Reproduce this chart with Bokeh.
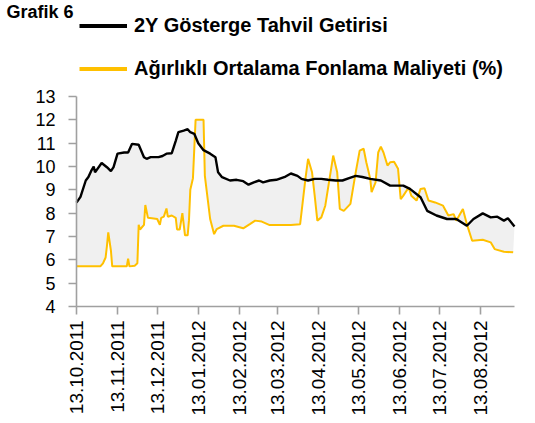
import math
import numpy as np
import pandas as pd
from bokeh.plotting import figure
from bokeh.models import (FixedTicker, DatetimeTickFormatter, Label, Legend,
                          LegendItem, Range1d, SingleIntervalTicker)
from bokeh.embed import file_html
from bokeh.resources import INLINE

# ---------------- data ----------------
tick_labels = ["13.10.2011", "13.11.2011", "13.12.2011", "13.01.2012",
               "13.02.2012", "13.03.2012", "13.04.2012", "13.05.2012",
               "13.06.2012", "13.07.2012", "13.08.2012"]

gosterge_dates = [
    "2011-10-13", "2011-10-16", "2011-10-20", "2011-10-22", "2011-10-24",
    "2011-10-26", "2011-10-27", "2011-11-01", "2011-11-05", "2011-11-08",
    "2011-11-10", "2011-11-13", "2011-11-18", "2011-11-21", "2011-11-24",
    "2011-11-29", "2011-12-03", "2011-12-05", "2011-12-08", "2011-12-14",
    "2011-12-17", "2011-12-20", "2011-12-24", "2011-12-27", "2011-12-29",
    "2012-01-02", "2012-01-05", "2012-01-07", "2012-01-10", "2012-01-13",
    "2012-01-17", "2012-01-22", "2012-01-26", "2012-01-28", "2012-01-31",
    "2012-02-06", "2012-02-11", "2012-02-16", "2012-02-20", "2012-02-24",
    "2012-02-28", "2012-03-02", "2012-03-07", "2012-03-12", "2012-03-19",
    "2012-03-23", "2012-03-28", "2012-03-31", "2012-04-05", "2012-04-10",
    "2012-04-15", "2012-04-20", "2012-04-26", "2012-05-01", "2012-05-06",
    "2012-05-11", "2012-05-16", "2012-05-22", "2012-05-30", "2012-06-06",
    "2012-06-16", "2012-06-21", "2012-06-29", "2012-07-04", "2012-07-11",
    "2012-07-19", "2012-07-26", "2012-08-03", "2012-08-08", "2012-08-15",
    "2012-08-21", "2012-08-26", "2012-08-31", "2012-09-03", "2012-09-08"]
gosterge_values = [
    8.45, 8.70, 9.40, 9.55, 9.80, 10.00, 9.75, 10.15, 9.97, 9.80,
    9.97, 10.55, 10.60, 10.60, 10.97, 10.93, 10.40, 10.33, 10.40, 10.40,
    10.45, 10.55, 10.57, 11.10, 11.47, 11.54, 11.60, 11.47, 11.40, 11.00,
    10.70, 10.55, 10.40, 9.75, 9.54, 9.40, 9.43, 9.37, 9.22, 9.32,
    9.40, 9.32, 9.40, 9.43, 9.57, 9.70, 9.60, 9.47, 9.40, 9.47,
    9.47, 9.43, 9.40, 9.40, 9.50, 9.60, 9.55, 9.47, 9.40, 9.18,
    9.18, 9.04, 8.68, 8.10, 7.90, 7.75, 7.75, 7.46, 7.75, 7.99,
    7.82, 7.85, 7.68, 7.78, 7.43]

fonlama_dates = [
    "2011-10-13", "2011-10-31", "2011-11-02", "2011-11-04", "2011-11-05",
    "2011-11-06", "2011-11-08", "2011-11-09", "2011-11-20", "2011-11-21",
    "2011-11-22", "2011-11-26", "2011-11-28", "2011-11-29", "2011-11-30",
    "2011-12-03", "2011-12-04", "2011-12-06", "2011-12-09", "2011-12-13",
    "2011-12-15", "2011-12-16", "2011-12-18", "2011-12-20", "2011-12-21",
    "2011-12-24", "2011-12-27", "2011-12-28", "2011-12-30", "2012-01-01",
    "2012-01-03", "2012-01-05", "2012-01-06", "2012-01-07", "2012-01-09",
    "2012-01-11", "2012-01-17", "2012-01-18", "2012-01-22", "2012-01-25",
    "2012-01-27", "2012-02-01", "2012-02-09", "2012-02-16", "2012-02-21",
    "2012-02-25", "2012-03-01", "2012-03-07", "2012-03-15", "2012-03-23",
    "2012-03-30", "2012-04-03", "2012-04-05", "2012-04-08", "2012-04-10",
    "2012-04-12", "2012-04-15", "2012-04-18", "2012-04-22", "2012-04-24",
    "2012-04-27", "2012-04-29", "2012-05-02", "2012-05-07", "2012-05-11",
    "2012-05-14", "2012-05-17", "2012-05-19", "2012-05-22", "2012-05-23",
    "2012-05-26", "2012-05-28", "2012-05-30", "2012-06-01", "2012-06-04",
    "2012-06-06", "2012-06-09", "2012-06-12", "2012-06-14", "2012-06-16",
    "2012-06-20", "2012-06-22", "2012-06-26", "2012-06-29", "2012-07-02",
    "2012-07-05", "2012-07-10", "2012-07-16", "2012-07-20", "2012-07-24",
    "2012-07-26", "2012-07-31", "2012-08-03", "2012-08-07", "2012-08-15",
    "2012-08-21", "2012-08-24", "2012-08-31", "2012-09-07"]
fonlama_values = [
    5.72, 5.72, 5.85, 6.10, 6.60, 7.18, 6.40, 5.72, 5.72, 6.05,
    5.72, 5.75, 5.85, 7.50, 7.30, 7.50, 8.35, 7.80, 7.78, 7.75,
    7.50, 7.80, 7.85, 8.20, 7.85, 7.90, 7.80, 7.30, 7.30, 8.00,
    7.05, 7.05, 7.70, 9.00, 9.50, 12.00, 12.00, 9.60, 7.75, 7.10,
    7.32, 7.46, 7.46, 7.35, 7.53, 7.68, 7.64, 7.49, 7.49, 7.49,
    7.53, 9.47, 10.33, 9.75, 8.75, 7.68, 7.82, 8.32, 9.75, 10.47,
    9.75, 8.18, 8.10, 8.40, 9.75, 10.68, 10.76, 10.18, 9.47, 8.90,
    9.32, 10.60, 10.85, 10.60, 10.04, 10.18, 10.20, 9.90, 8.60, 8.75,
    9.10, 8.75, 8.54, 9.04, 9.07, 8.54, 8.46, 8.32, 7.90, 7.96,
    7.68, 8.18, 7.53, 6.82, 6.86, 6.75, 6.46, 6.35, 6.32]

chart_title = "Grafik 6"
series_names = ["2Y Gösterge Tahvil Getirisi", "Ağırlıklı Ortalama Fonlama Maliyeti (%)"]
x_start, x_end = "2011-10-13", "2012-09-08"
y_min, y_max = 4, 13

FONT = "Liberation Sans"
AXIS_COLOR = "#a0a0a0"
BLACK = "black"
GOLD = "#FFC000"

# ---------------- layout geometry (pixels inside the figure) ----------------
W, H = 530, 418
AX_L, AX_R = 76, 514        # left / right end of the x axis
AX_T, AX_B = 96, 306        # top (y=13) / bottom (y=4) of the y axis

t0 = pd.Timestamp(x_start).value / 1e6
t1 = pd.Timestamp(x_end).value / 1e6
ms_per_px = (t1 - t0) / (AX_R - AX_L)
xr = Range1d(t0 - AX_L * ms_per_px, t1 + (W - AX_R) * ms_per_px)
u_per_px = (y_max - y_min) / (AX_B - AX_T)
yr = Range1d(y_min - (H - AX_B) * u_per_px, y_max + AX_T * u_per_px)

gx = pd.to_datetime(gosterge_dates)
fx = pd.to_datetime(fonlama_dates)
ticks = pd.to_datetime(tick_labels, format="%d.%m.%Y")
tick_ms = [t.value // 10**6 for t in ticks]

p = figure(output_backend="svg", toolbar_location=None,
           width=W, height=H, min_border=0,
           x_axis_type="datetime", x_range=xr, y_range=yr)
p.outline_line_color = None
p.background_fill_color = "white"
p.border_fill_color = "white"
p.grid.visible = False

px = np.concatenate([gx.values, fx.values[::-1]])
py = np.concatenate([np.array(gosterge_values), np.array(fonlama_values)[::-1]])
p.patch(px, py, fill_color="#f0f0f0", line_color=None)

p.line(fx, fonlama_values, line_color=GOLD, line_width=2)
p.line(gx, gosterge_values, line_color=BLACK, line_width=2.4)

# legend keys (single point -> only drawn in the legend)
k_g = p.line(gx[:1], gosterge_values[:1], line_color=BLACK, line_width=4)
k_f = p.line(fx[:1], fonlama_values[:1], line_color=GOLD, line_width=4)

xa = p.xaxis[0]
xa.fixed_location = y_min
xa.bounds = (t0, t1)
xa.ticker = FixedTicker(ticks=tick_ms)
fmt = "%d.%m.%Y"
xa.formatter = DatetimeTickFormatter(microseconds=fmt, milliseconds=fmt, seconds=fmt,
                                     minsec=fmt, minutes=fmt, hourmin=fmt, hours=fmt,
                                     days=fmt, months=fmt, years=fmt)
xa.major_label_orientation = math.pi / 2
xa.major_label_standoff = 6
xa.minor_tick_line_color = None

ya = p.yaxis[0]
ya.fixed_location = t0
ya.bounds = (y_min, y_max)
ya.ticker = SingleIntervalTicker(interval=1)
ya.major_label_standoff = 13
ya.minor_tick_line_color = None

for ax in (xa, ya):
    ax.axis_line_color = AXIS_COLOR
    ax.axis_line_width = 1.6
    ax.major_tick_line_color = AXIS_COLOR
    ax.major_tick_line_width = 1.6
    ax.major_tick_out = 8
    ax.major_tick_in = 0
    ax.major_label_text_font = FONT
    ax.major_label_text_color = "black"
xa.major_label_text_font_size = "19px"
ya.major_label_text_font_size = "18px"

# title (screen units from the frame's bottom-left)
p.add_layout(Label(x=6, y=H - 11.5, x_units="screen", y_units="screen",
                   text=chart_title, text_font=FONT, text_font_style="bold",
                   text_font_size="18px", text_baseline="alphabetic",
                   text_color="black"))

legend = Legend(items=[LegendItem(label=series_names[0], renderers=[k_g]),
                       LegendItem(label=series_names[1], renderers=[k_f])],
                location=(79, H - 80), orientation="vertical",
                glyph_width=48, glyph_height=23, label_height=23,
                label_standoff=7, spacing=20, padding=0, margin=0,
                label_text_font=FONT, label_text_font_style="bold",
                label_text_font_size="20px", label_text_color="black",
                border_line_color=None, background_fill_alpha=0)
p.add_layout(legend, "center")

open("out.html", "w").write(file_html(p, INLINE))
